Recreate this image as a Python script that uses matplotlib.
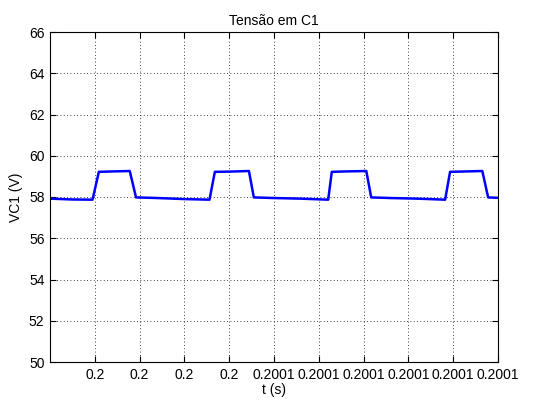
import matplotlib
matplotlib.use("Agg")
import matplotlib.pyplot as plt

plt.rcParams['font.family'] = ['Liberation Sans', 'DejaVu Sans']

# waveform (time offset in microseconds from 0.2 s, volts)
t_us = [0, 5, 9.5, 10.9, 14, 17.8, 19.2, 24, 30, 35.6, 36.8, 40, 44.4, 45.5,
        50, 56, 62.1, 62.9, 66, 70.6, 71.7, 76, 82, 88.2, 89.3, 93, 96.5, 97.8, 100]
vc1 = [57.92, 57.88, 57.87, 59.22, 59.24, 59.26, 57.98, 57.95, 57.90, 57.87,
       59.22, 59.23, 59.26, 57.98, 57.95, 57.92, 57.87, 59.22, 59.24, 59.26,
       57.98, 57.95, 57.92, 57.87, 59.22, 59.24, 59.26, 57.98, 57.96]

x_ticks_us = [10, 20, 30, 40, 50, 60, 70, 80, 90, 100]
x_tick_labels = ['0.2', '0.2', '0.2', '0.2', '0.2001', '0.2001', '0.2001',
                 '0.2001', '0.2001', '0.2001']
y_ticks = [50, 52, 54, 56, 58, 60, 62, 64, 66]

t = [0.2 + u * 1e-6 for u in t_us]

fig = plt.figure(figsize=(5.46, 4.01), dpi=100)
ax = fig.add_axes([50/546, 39/401, 448/546, 330/401])

ax.plot(t, vc1, color='#0000ff', linewidth=1.8)

ax.set_xlim(0.2, 0.2001)
ax.set_ylim(50, 66)
ax.set_xticks([0.2 + u * 1e-6 for u in x_ticks_us])
ax.set_xticklabels(x_tick_labels)
ax.set_yticks(y_ticks)
ax.tick_params(direction='in', top=True, right=True, labelsize=10, length=4, pad=4)
ax.grid(True, color='black', linestyle=(0, (1, 3)), linewidth=0.6)
for s in ax.spines.values():
    s.set_linewidth(0.8)

ax.set_title('Tensão em C1', fontsize=10, pad=5)
ax.set_xlabel('t (s)', fontsize=10, labelpad=1)
ax.set_ylabel('VC1 (V)', fontsize=10, labelpad=4)

fig.savefig('out.png', dpi=100, facecolor='white')
